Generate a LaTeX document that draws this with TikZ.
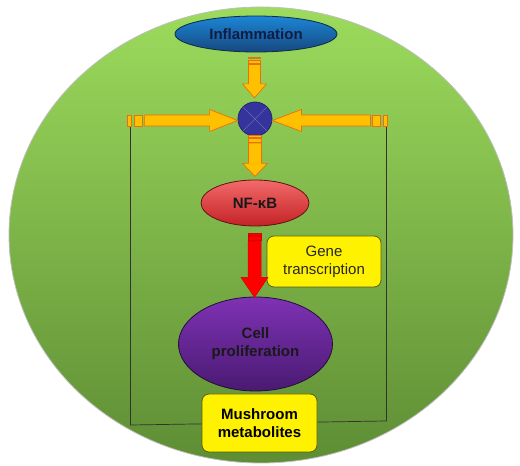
\documentclass[tikz,border=0pt]{standalone}
\usepackage{fontspec}
\setmainfont{Liberation Sans}
\usepackage{tikz}
\usetikzlibrary{shapes.geometric,calc}
\usepackage{xcolor}

\definecolor{leafTop}{HTML}{9CDB5D}
\definecolor{leafBottom}{HTML}{5E8D34}
\definecolor{inflTop}{HTML}{1C86D6}
\definecolor{inflBottom}{HTML}{17487F}
\definecolor{inflText}{HTML}{0F1E45}
\definecolor{nfTop}{HTML}{F26A6A}
\definecolor{nfBottom}{HTML}{C42226}
\definecolor{cellTop}{HTML}{7E32B4}
\definecolor{cellBottom}{HTML}{4A1A72}
\definecolor{hubFill}{HTML}{34349C}
\definecolor{arrowFill}{HTML}{FFC000}
\definecolor{arrowEdge}{HTML}{E8700E}
\definecolor{noteEdge}{HTML}{5C5C10}

\newcommand{\labelfont}{\fontsize{15}{18}\selectfont}

\tikzset{
	oval/.style={ellipse, line width=0.8pt, inner sep=0pt, font=\labelfont\bfseries, align=center},
	notebox/.style={rectangle, rounded corners=7pt, draw=noteEdge, line width=0.8pt, fill=yellow, align=center, inner sep=0pt},
	goldarrow/.style={fill=arrowFill, draw=arrowEdge, line width=0.7pt, line join=miter},
	redarrow/.style={fill=red, draw=red!85!black, line width=0.5pt}
}

\newcommand{\StripedArrow}[8]{%
	\begin{scope}[shift={(#2)}, rotate=#3]
		\filldraw[#1] (0,-#5) rectangle (#8,#5);
		\filldraw[#1] (1.75*#8,-#5) rectangle (3.75*#8,#5);
		\filldraw[#1] (4.25*#8,-#5) -- (#4-#7,-#5) -- (#4-#7,-#6) -- (#4,0)
			-- (#4-#7,#6) -- (#4-#7,#5) -- (4.25*#8,#5) -- cycle;
	\end{scope}}

\begin{document}
\begin{tikzpicture}[x=1pt, y=1pt, font=\labelfont]
		\useasboundingbox (0,0) rectangle (520,466);

		\shadedraw[top color=leafTop, bottom color=leafBottom, draw=gray!50, line width=0.8pt]
			(261,231) ellipse [x radius=252, y radius=228];

		\node[oval, top color=inflTop, bottom color=inflBottom, draw=inflBottom!60!black,
			minimum width=162pt, minimum height=36pt, text=inflText] (infl) at (256,432) {Inflammation};
		\node[circle, fill=hubFill, draw=hubFill!70!black, line width=0.8pt,
			minimum size=34pt, inner sep=0pt] (hub) at (255,347) {};
		\draw[hubFill!75!white, line width=0.6pt] (hub.north west) -- (hub.south east)
			(hub.north east) -- (hub.south west);
		\node[oval, top color=nfTop, bottom color=nfBottom, draw=nfBottom!50!black,
			minimum width=108pt, minimum height=46pt, text=black!90] (nfkb) at (255,263) {NF-κB};
		\node[notebox, minimum width=114pt, minimum height=51pt, text=black!85] (gene) at (324,204.5) {Gene\\transcription};
		\node[oval, top color=cellTop, bottom color=cellBottom, draw=cellBottom!50!black,
			minimum width=154pt, minimum height=94pt, text=black!90] (cell) at (255.5,122) {Cell\\proliferation};

		\coordinate (lbar) at (130.5,340);
		\coordinate (rbar) at (386.5,340);
		\coordinate (lfoot) at (130.5,41);
		\coordinate (rfoot) at (386.5,45);
		\draw[line width=0.7pt, black!80] (lbar) -- (lfoot) -- (rfoot) -- (rbar);

		\coordinate (t1) at ($(infl.south)+(-1.5,-4.5)$);
		\coordinate (t2) at ($(hub.south)+(0,1)$);
		\coordinate (t3) at ($(nfkb.south)+(-0.5,-7)$);
		\coordinate (t4) at ($(hub.west)+(-110,-1.5)$);
		\coordinate (t5) at ($(hub.east)+(115,-1.5)$);

		\StripedArrow{goldarrow}{t1}{-90}{41}{6}{12}{14}{1.8}
		\StripedArrow{goldarrow}{t2}{-90}{41}{6.5}{12.5}{13}{1.8}
		\StripedArrow{goldarrow}{t4}{0}{110}{5.5}{11}{28}{4}
		\StripedArrow{goldarrow}{t5}{180}{115}{5.5}{11}{29}{4}
		\StripedArrow{redarrow}{t3}{-90}{64}{6.5}{13.5}{20}{1.8}

		\node[notebox, font=\labelfont\bfseries, minimum width=115pt, minimum height=58pt] (mush) at (259.5,43) {Mushroom\\metabolites};

\end{tikzpicture}
\end{document}
